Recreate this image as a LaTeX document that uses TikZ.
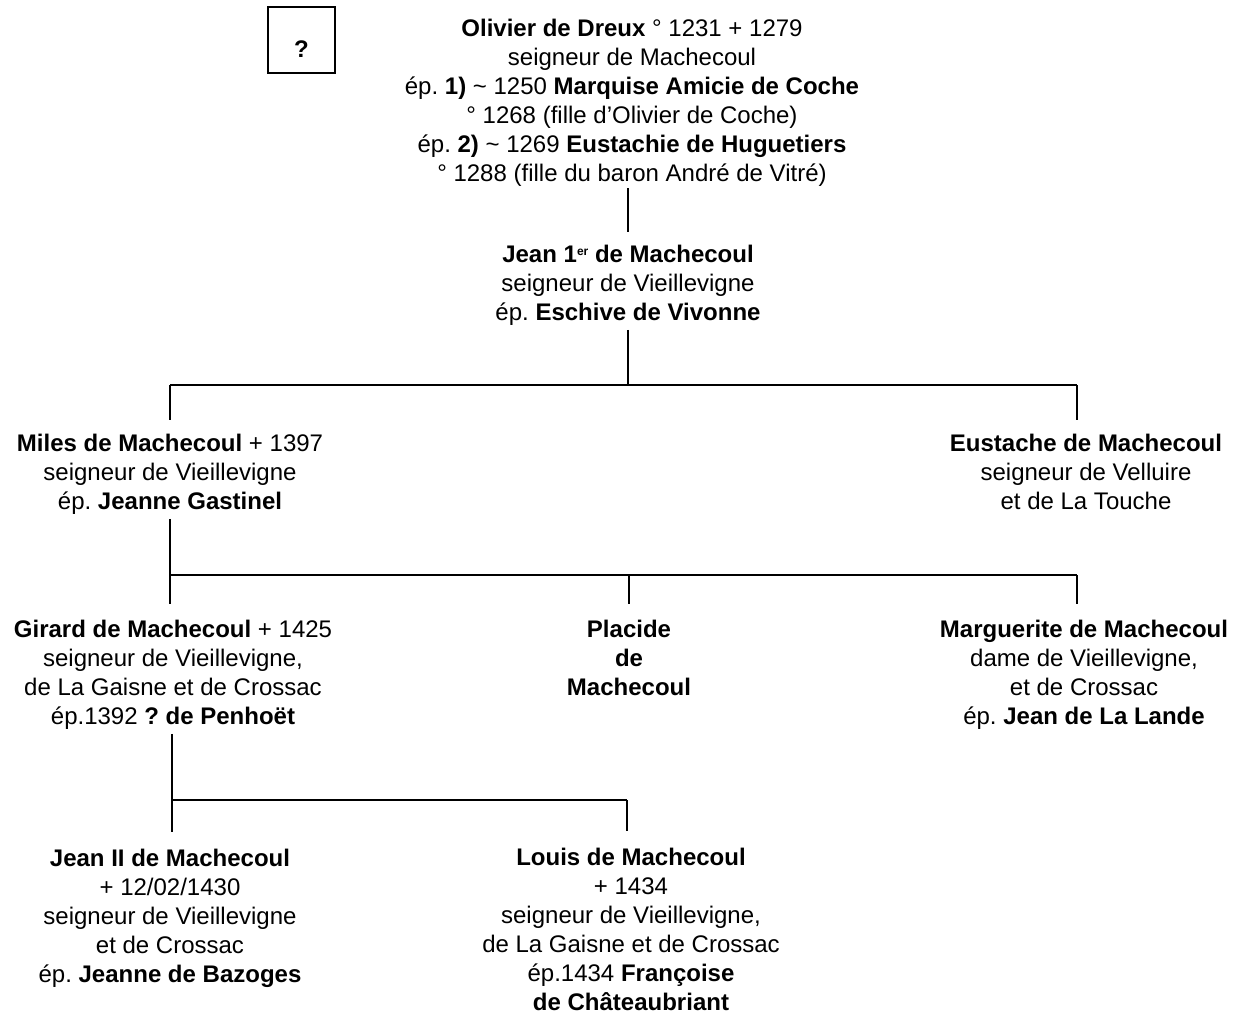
\documentclass[tikz,border=0pt]{standalone}
\usepackage{fontspec}
\setmainfont{Liberation Sans}
\usetikzlibrary{positioning,calc}
\frenchspacing

\begin{document}
\begin{tikzpicture}[
    x=1pt, y=-1pt,
    person/.style={align=center, anchor=north, inner sep=0pt,
        font=\fontsize{24}{29}\selectfont},
    qbox/.style={draw, line width=1.3pt, minimum width=67pt, minimum height=66pt,
        inner sep=0pt},
    tree/.style={line width=2.7pt},
]
\useasboundingbox (0,0) rectangle (1233,1014);

% unknown parent
\node[qbox, label={[font=\fontsize{24}{29}\selectfont\bfseries, yshift=-9pt]center:?}]
    (unknown) at (301.5,40) {};

% generation 1
\node[person] (olivier) at (632,19) {\textbf{Olivier de Dreux} ° 1231 + 1279\\
    seigneur de Machecoul\\
    ép. \textbf{1)} \textasciitilde{} 1250 \textbf{Marquise Amicie de Coche}\\
    ° 1268 (fille d’Olivier de Coche)\\
    ép. \textbf{2)} \textasciitilde{} 1269 \textbf{Eustachie de Huguetiers}\\
    ° 1288 (fille du baron André de Vitré)};

% generation 2
\node[person] (jean) at (628,245) {\textbf{Jean 1\raisebox{7pt}{\fontsize{12}{12}\selectfont er} de Machecoul}\\
    seigneur de Vieillevigne\\
    ép. \textbf{Eschive de Vivonne}};

% generation 3
\node[person] (miles) at (170,434) {\textbf{Miles de Machecoul} + 1397\\
    seigneur de Vieillevigne\\
    ép. \textbf{Jeanne Gastinel}};
\node[person] (eustache) at (1086,434) {\textbf{Eustache de Machecoul}\\
    seigneur de Velluire\\
    et de La Touche};

% generation 4
\node[person] (girard) at (173,620) {\textbf{Girard de Machecoul} + 1425\\
    seigneur de Vieillevigne,\\
    de La Gaisne et de Crossac\\
    ép.1392 \textbf{? de Penhoët}};
\node[person, font=\fontsize{24}{29}\selectfont\bfseries] (placide) at (629,620) {Placide\\
    de\\
    Machecoul};
\node[person] (marguerite) at (1084,620) {\textbf{Marguerite de Machecoul}\\
    dame de Vieillevigne,\\
    et de Crossac\\
    ép. \textbf{Jean de La Lande}};

% generation 5
\node[person] (jean2) at (170,849) {\textbf{Jean II de Machecoul}\\
    + 12/02/1430\\
    seigneur de Vieillevigne\\
    et de Crossac\\
    ép. \textbf{Jeanne de Bazoges}};
\node[person] (louis) at (631,848) {\textbf{Louis de Machecoul}\\
    + 1434\\
    seigneur de Vieillevigne,\\
    de La Gaisne et de Crossac\\
    ép.1434 \textbf{Françoise}\\
    \textbf{de Châteaubriant}};

% forks
\coordinate (f1l) at (170,385);
\coordinate (f1r) at (1077,385);
\coordinate (f2l) at (170,575);
\coordinate (f2r) at (1077,575);
\coordinate (f3l) at (172,800);
\coordinate (f3r) at (627,800);

\draw[tree] (628,188) -- ([yshift=13pt]jean.north -| 628,0);
\draw[tree] ([yshift=-4pt]jean.south -| 628,0) -- (628,385);
\draw[tree] (f1l) -- (f1r);
\draw[tree] (f1l) -- ([yshift=14pt]f1l |- miles.north);
\draw[tree] (f1r) -- ([yshift=14pt]f1r |- eustache.north);

\draw[tree] ([yshift=-4pt]miles.south -| f2l) -- (f2l);
\draw[tree] (f2l) -- (f2r);
\draw[tree] (f2l) -- ([yshift=16pt]f2l |- girard.north);
\draw[tree] (f2l -| placide) -- ([yshift=16pt]placide.north);
\draw[tree] (f2r) -- ([yshift=16pt]f2r |- marguerite.north);

\draw[tree] ([yshift=-4pt]girard.south -| f3l) -- (f3l);
\draw[tree] (f3l) -- (f3r);
\draw[tree] (f3l) -- ([yshift=17pt]f3l |- jean2.north);
\draw[tree] (f3r) -- ([yshift=17pt]f3r |- louis.north);
\end{tikzpicture}
\end{document}
